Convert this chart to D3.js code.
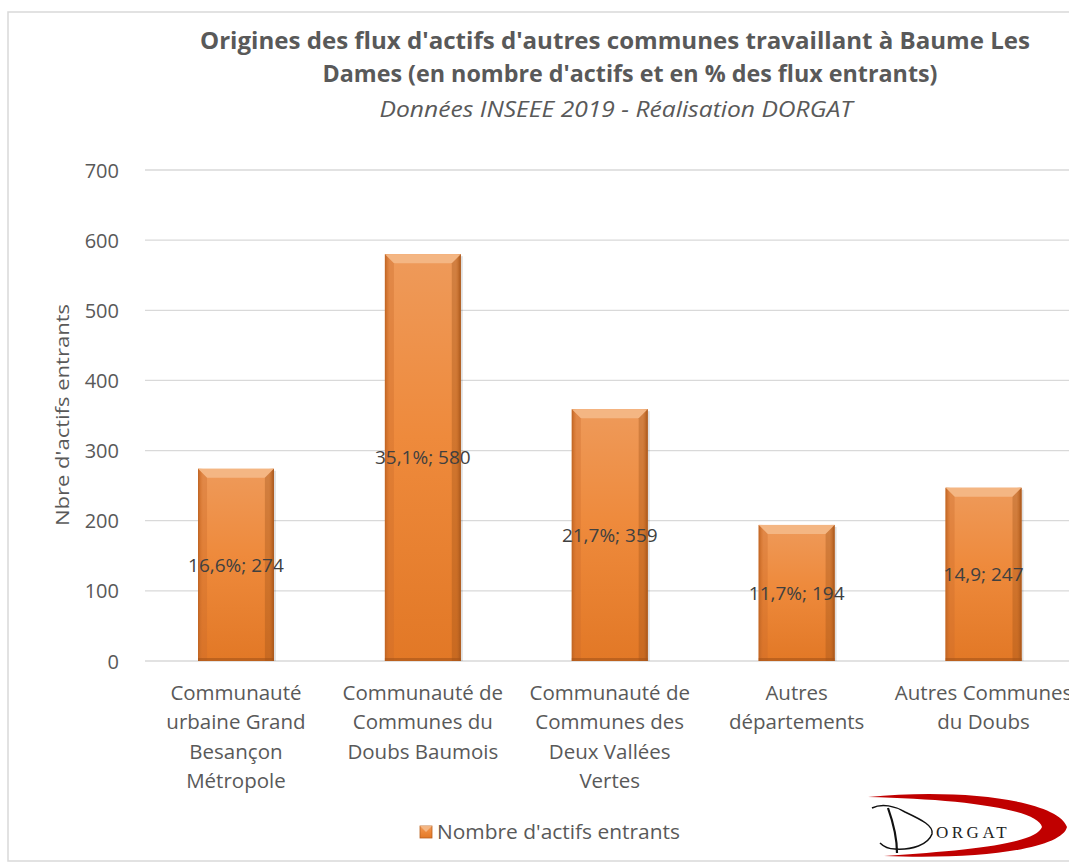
<!DOCTYPE html>
<html><head><meta charset="utf-8">
<script src="https://cdn.jsdelivr.net/npm/d3@7"></script>
<style>body{margin:0;background:#fff;} svg{display:block;}</style>
</head><body>
<svg id="chart" width="1069" height="865"></svg>
<script>
const categories = [
  ["Communauté","urbaine Grand","Besançon","Métropole"],
  ["Communauté de","Communes du","Doubs Baumois"],
  ["Communauté de","Communes des","Deux Vallées","Vertes"],
  ["Autres","départements"],
  ["Autres Communes","du Doubs"]
];
const catKeys = ["CU Grand Besançon","CC Doubs Baumois","CC Deux Vallées Vertes","Autres départements","Autres Communes du Doubs"];
const values = [274, 580, 359, 194, 247];
const labels = ["16,6%; 274","35,1%; 580","21,7%; 359","11,7%; 194","14,9; 247"];
const yTicks = [0,100,200,300,400,500,600,700];

const svg = d3.select("#chart");
const font = "'Open Sans', sans-serif";

// frame
svg.append("rect").attr("x",8).attr("y",12).attr("width",1080).attr("height",849)
  .attr("fill","#fff").attr("stroke","#d9d9d9").attr("stroke-width",1.5);

const defs = svg.append("defs");
const g1 = defs.append("linearGradient").attr("id","barGrad").attr("x1",0).attr("y1",0).attr("x2",0).attr("y2",1);
g1.append("stop").attr("offset","0%").attr("stop-color","#EE9A5A");
g1.append("stop").attr("offset","45%").attr("stop-color","#EE8A3C");
g1.append("stop").attr("offset","100%").attr("stop-color","#E27826");
const g2 = defs.append("linearGradient").attr("id","sideGrad").attr("x1",0).attr("y1",0).attr("x2",1).attr("y2",0);
g2.append("stop").attr("offset","0%").attr("stop-color","#B8601F");
g2.append("stop").attr("offset","100%").attr("stop-color","#E07A2C").attr("stop-opacity",0);
const g3 = defs.append("linearGradient").attr("id","sideGradR").attr("x1",1).attr("y1",0).attr("x2",0).attr("y2",0);
g3.append("stop").attr("offset","0%").attr("stop-color","#A9561B");
g3.append("stop").attr("offset","100%").attr("stop-color","#E07A2C").attr("stop-opacity",0);

const y = d3.scaleLinear().domain([0,700]).range([661,170]);
const x = d3.scaleBand().domain(catKeys).range([142.5,1077]).paddingInner(0.594).paddingOuter(0.297);

// gridlines
svg.append("g").selectAll("line").data(yTicks).join("line")
  .attr("x1",145).attr("x2",1069).attr("y1",d=>y(d)).attr("y2",d=>y(d))
  .attr("stroke","#d9d9d9").attr("stroke-width",1.3);

// y axis labels
const yAxis = d3.axisLeft(y).tickValues(yTicks).tickSize(0).tickPadding(0);
const ya = svg.append("g").attr("transform","translate(119,0)").call(yAxis);
ya.select(".domain").remove();
ya.selectAll("text").attr("font-family",font).attr("font-size",20).attr("fill","#595959").attr("dy","0.35em");

// y axis title
svg.append("text").attr("transform","translate(69,415) rotate(-90)").attr("text-anchor","middle")
  .attr("font-family",font).attr("font-size",19).attr("fill","#595959")
  .attr("textLength",222).attr("lengthAdjust","spacingAndGlyphs").text("Nbre d'actifs entrants");

// bars
const bars = svg.append("g").selectAll("g").data(values).join("g");
bars.each(function(v,i){
  const gx = x(catKeys[i]), bw = x.bandwidth(), top = y(v), bot = y(0);
  const g = d3.select(this);
  g.append("rect").attr("x",gx+2).attr("y",top+2).attr("width",bw).attr("height",bot-top-2).attr("fill","#000").attr("opacity",0.12);
  g.append("rect").attr("x",gx).attr("y",top).attr("width",bw).attr("height",bot-top).attr("fill","url(#barGrad)");
  g.append("rect").attr("x",gx).attr("y",top).attr("width",5).attr("height",bot-top).attr("fill","url(#sideGrad)");
  g.append("rect").attr("x",gx+bw-5).attr("y",top).attr("width",5).attr("height",bot-top).attr("fill","url(#sideGradR)");
  g.append("path").attr("d",`M${gx},${top} L${gx+bw},${top} L${gx+bw-9},${top+9} L${gx+9},${top+9} Z`).attr("fill","#F4B683");
  g.append("path").attr("d",`M${gx},${top} L${gx+9},${top+9} L${gx+9},${bot} L${gx},${bot} Z`).attr("fill","#C8692A").attr("opacity",0.35);
  g.append("path").attr("d",`M${gx+bw},${top} L${gx+bw-9},${top+9} L${gx+bw-9},${bot} L${gx+bw},${bot} Z`).attr("fill","#9C4F17").attr("opacity",0.35);
  g.append("rect").attr("x",gx).attr("y",bot-3).attr("width",bw).attr("height",3).attr("fill","#A55419").attr("opacity",0.6);
});

// data labels
svg.append("g").selectAll("text").data(values).join("text")
  .attr("x",(d,i)=>x(catKeys[i])+x.bandwidth()/2)
  .attr("y",d=>(y(d)+y(0))/2).attr("dy","0.35em").attr("text-anchor","middle")
  .attr("font-family",font).attr("font-size",19).attr("fill","#404040")
  .text((d,i)=>labels[i]);

// category labels
const xl = svg.append("g");
categories.forEach((lines,i)=>{
  const cx = x(catKeys[i]) + x.bandwidth()/2;
  const t = xl.append("text").attr("text-anchor","middle").attr("font-family",font).attr("font-size",20.5).attr("fill","#595959");
  lines.forEach((ln,j)=>{
    t.append("tspan").attr("x",cx).attr("y",700+j*29.3).text(ln);
  });
});

// title
svg.append("text").attr("x",615).attr("y",49).attr("text-anchor","middle")
  .attr("font-family","'Liberation Sans Narrow', 'Open Sans', sans-serif").attr("font-weight","bold")
  .attr("font-size",24).attr("fill","#595959").attr("textLength",830).attr("lengthAdjust","spacingAndGlyphs")
  .text("Origines des flux d'actifs d'autres communes travaillant à Baume Les");
svg.append("text").attr("x",630).attr("y",82).attr("text-anchor","middle")
  .attr("font-family","'Liberation Sans Narrow', 'Open Sans', sans-serif").attr("font-weight","bold")
  .attr("font-size",24).attr("fill","#595959").attr("textLength",615).attr("lengthAdjust","spacingAndGlyphs")
  .text("Dames (en nombre d'actifs et en % des flux entrants)");
svg.append("text").attr("x",616).attr("y",117).attr("text-anchor","middle")
  .attr("font-family","'Liberation Sans Narrow', 'Open Sans', sans-serif").attr("font-style","italic")
  .attr("font-size",22).attr("fill","#595959").attr("textLength",473).attr("lengthAdjust","spacingAndGlyphs")
  .text("Données INSEEE 2019 - Réalisation DORGAT");

// legend
const lg = svg.append("g");
lg.append("rect").attr("x",420).attr("y",826).attr("width",12).attr("height",12).attr("fill","url(#barGrad)").attr("stroke","#B8601F").attr("stroke-width",0.8);
lg.append("path").attr("d","M420,826 L432,826 L426,832 Z").attr("fill","#F4B683");
lg.append("text").attr("x",437).attr("y",832).attr("dy","0.35em").attr("font-family",font).attr("font-size",20.5).attr("fill","#595959")
  .attr("textLength",243).attr("lengthAdjust","spacingAndGlyphs").text("Nombre d'actifs entrants");

// logo
const logo = svg.append("g");
logo.append("path").attr("d","M868,797 C960,788 1058,800 1067,827 C1062,848 985,860 884,856 C975,850 1036,843 1042,827 C1038,809 960,799 868,797 Z").attr("fill","#C00000");
logo.append("path").attr("d","M872,808 C882,803 895,806 905,812 C922,820 934,826 932,834 C928,845 912,850 895,849 C888,849 883,846 880,843").attr("fill","none").attr("stroke","#111").attr("stroke-width",1.5);
logo.append("path").attr("d","M888,808 C893,822 897,838 897,853").attr("fill","none").attr("stroke","#111").attr("stroke-width",2.2);
logo.append("text").attr("x",936).attr("y",838).attr("font-family","'Liberation Serif', serif").attr("font-size",17).attr("letter-spacing",3.5).attr("fill","#222").text("ORGAT");
</script>
</body></html>
